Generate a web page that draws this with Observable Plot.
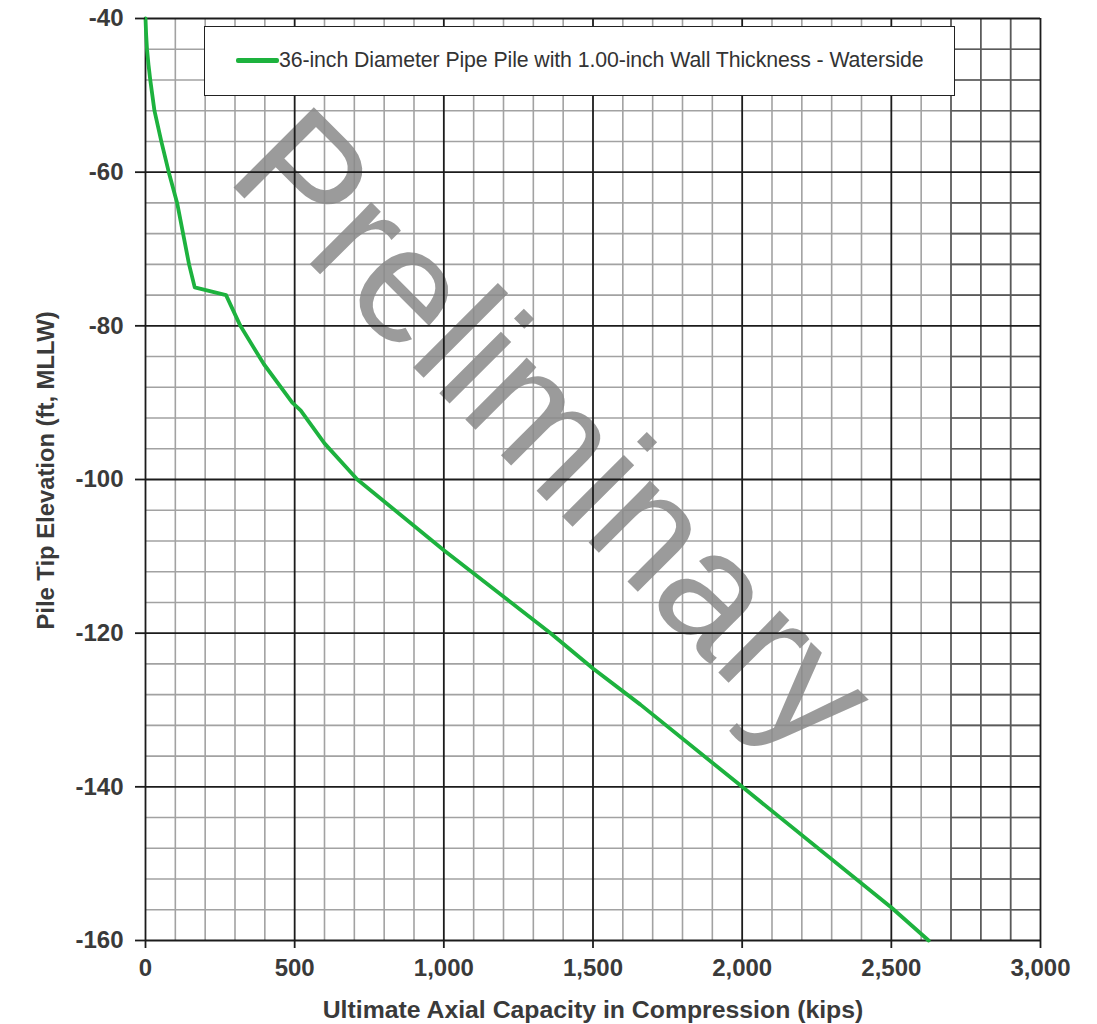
<!DOCTYPE html>
<html><head><meta charset="utf-8">
<script src="https://cdn.jsdelivr.net/npm/d3@7"></script>
<script src="https://cdn.jsdelivr.net/npm/@observablehq/plot@0.6"></script>
<style>
body{margin:0;background:#fff;}
#wrap{position:relative;width:1097px;height:1024px;font-family:"Liberation Sans",Arial,sans-serif;}
#legend{position:absolute;left:204px;top:26px;width:751px;height:70px;border:1.5px solid #222;background:#fff;box-sizing:border-box;}
#legend .sw{position:absolute;left:31px;top:31px;width:43px;height:5px;border-radius:2px;background:#1db23e;}
#legend .lb{position:absolute;left:74px;top:21px;font-size:21.3px;color:#333;white-space:nowrap;line-height:24px;letter-spacing:-0.1px;}
</style></head>
<body><div id="wrap"></div>
<script>
const capacity  = [0, 2, 5, 10, 16, 30, 53, 78, 106, 126, 146, 165, 270, 318, 397, 492, 520, 600, 710, 1000, 1358, 1500, 1659, 2000, 2500, 2625];
const elevation = [-40, -42, -44, -46, -48, -52, -56, -60, -64, -68, -72, -75, -76, -80, -85, -90, -91, -95.3, -100, -109.2, -120, -124.6, -129.3, -140, -155.7, -160];
const xTicks = [0, 500, 1000, 1500, 2000, 2500, 3000];
const yTicks = [-40, -60, -80, -100, -120, -140, -160];
const xMinor = d3.range(0, 3001, 100).filter(v => v % 500 !== 0);
const yMinor = d3.range(-160, -39, 4).filter(v => v % 20 !== 0);
const seriesName = "36-inch Diameter Pipe Pile with 1.00-inch Wall Thickness - Waterside";
const xTitle = "Ultimate Axial Capacity in Compression (kips)";
const yTitle = "Pile Tip Elevation (ft, MLLW)";
const watermark = "Preliminary";

const data = capacity.map((c, i) => ({capacity: c, elevation: elevation[i]}));
const font = '"Liberation Sans", Arial, sans-serif';

const chart = Plot.plot({
  width: 1097,
  height: 1024,
  marginLeft: 145,
  marginRight: 57,
  marginTop: 18,
  marginBottom: 84,
  style: {fontFamily: font, background: "#fff"},
  x: {domain: [0, 3000]},
  y: {domain: [-160, -40]},
  marks: [
    Plot.ruleX(xMinor, {stroke: "#a2a2a2", strokeWidth: 1.6}),
    Plot.ruleY(yMinor, {stroke: "#a2a2a2", strokeWidth: 1.6}),
    Plot.ruleX(xMinor.filter(v => v > 2600), {stroke: "#5a5a5a", strokeWidth: 1.6}),
    Plot.ruleY(yMinor, {x1: 2700, x2: 3000, stroke: "#5a5a5a", strokeWidth: 1.6}),
    Plot.text([watermark], {frameAnchor: "middle", dx: -40, dy: -47, rotate: 45, fontSize: 165, fill: "#8a8a8a", fillOpacity: 0.85, textAnchor: "middle", lineAnchor: "middle", fontFamily: font}),
    Plot.ruleX(xTicks, {stroke: "#1c1c1c", strokeWidth: 1.8}),
    Plot.ruleY(yTicks, {stroke: "#1c1c1c", strokeWidth: 1.8}),
    Plot.line(data, {x: "capacity", y: "elevation", stroke: "#1db23e", strokeWidth: 3.8}),
    Plot.axisX(xTicks, {tickSize: 8, tickPadding: 10, tickFormat: d3.format(","), fontSize: 24, fontWeight: "bold", fill: "#3a3a3a", stroke: "#1c1c1c", strokeWidth: 1.8, label: null}),
    Plot.axisY(yTicks, {tickSize: 10, tickPadding: 12, tickFormat: d => `${d}`, fontSize: 24, fontWeight: "bold", fill: "#3a3a3a", stroke: "#1c1c1c", strokeWidth: 1.8, label: null}),
    Plot.text([xTitle], {frameAnchor: "bottom", dy: 70, fontSize: 24.8, fontWeight: "bold", fill: "#3a3a3a", lineAnchor: "middle"}),
    Plot.text([yTitle], {frameAnchor: "left", dx: -99, dy: -9, rotate: -90, fontSize: 23.8, fontWeight: "bold", fill: "#3a3a3a", textAnchor: "middle", lineAnchor: "middle"})
  ]
});

const wrap = document.getElementById("wrap");
wrap.appendChild(chart);
const legend = document.createElement("div");
legend.id = "legend";
legend.innerHTML = '<div class="sw"></div><div class="lb"></div>';
legend.querySelector(".lb").textContent = seriesName;
wrap.appendChild(legend);
</script>
</body></html>
